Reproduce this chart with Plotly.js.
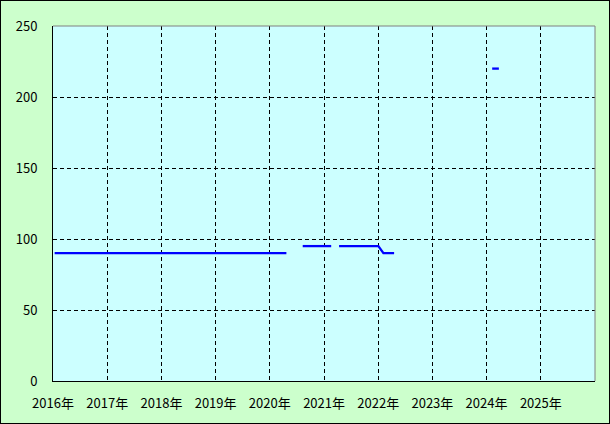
<!DOCTYPE html>
<html>
<head>
<meta charset="utf-8">
<script src="https://cdn.plot.ly/plotly-3.0.1.min.js"></script>
<style>
html,body{margin:0;padding:0;background:#ccffcc;}
#wrap{position:relative;width:610px;height:424px;}
#chart{position:absolute;left:0;top:0;width:610px;height:424px;}
#frame{position:absolute;left:0;top:0;width:608px;height:422px;border:1px solid #000;pointer-events:none;}
</style>
</head>
<body>
<div id="wrap"><div id="chart"></div><div id="frame"></div></div>
<script>
const dates  = ["2016-01-12","2020-04-22","2020-06-15","2020-08-10","2021-02-18","2021-03-15","2021-04-12","2022-01-02","2022-02-05","2022-04-18","2023-01-15","2024-02-08","2024-03-24"];
const values = [90, 90, null, 95, 95, null, 95, 95, 90, 90, null, 220, 220];
const yTicks = [0, 50, 100, 150, 200, 250];

const trace = {
  x: dates, y: values, type: 'scatter', mode: 'lines',
  connectgaps: false,
  line: {color: '#0000ff', width: 2.3},
  hoverinfo: 'skip'
};

const layout = {
  width: 610, height: 424,
  margin: {l: 53, r: 15, t: 26, b: 43},
  paper_bgcolor: '#ccffcc',
  plot_bgcolor: '#ccffff',
  font: {family: '"Noto Sans CJK JP", "DejaVu Sans", sans-serif', size: 13, color: '#000'},
  showlegend: false,
  xaxis: {
    type: 'date',
    range: ['2016-01-01', '2026-01-01'],
    tick0: '2016-01-01', dtick: 'M12',
    tickformat: '%Y年',
    showgrid: true, gridcolor: '#000', gridwidth: 1, griddash: '4px,3px',
    showline: true, linecolor: '#000', linewidth: 1,
    ticks: '', ticklabelstandoff: 10,
    zeroline: false, fixedrange: true
  },
  yaxis: {
    range: [0, 250],
    tickvals: yTicks,
    showgrid: true, gridcolor: '#000', gridwidth: 1, griddash: '4px,3px',
    showline: true, linecolor: '#000', linewidth: 1,
    ticks: '', ticklabelstandoff: 12,
    zeroline: false, fixedrange: true
  },
  shapes: [
    {type: 'line', xref: 'paper', yref: 'paper', x0: 0, x1: 1, y0: 1, y1: 1, line: {color: '#808080', width: 1}},
    {type: 'line', xref: 'paper', yref: 'paper', x0: 1, x1: 1, y0: 0, y1: 1, line: {color: '#808080', width: 1}}
  ]
};

Plotly.newPlot('chart', [trace], layout, {staticPlot: true, displayModeBar: false});
</script>
</body>
</html>
